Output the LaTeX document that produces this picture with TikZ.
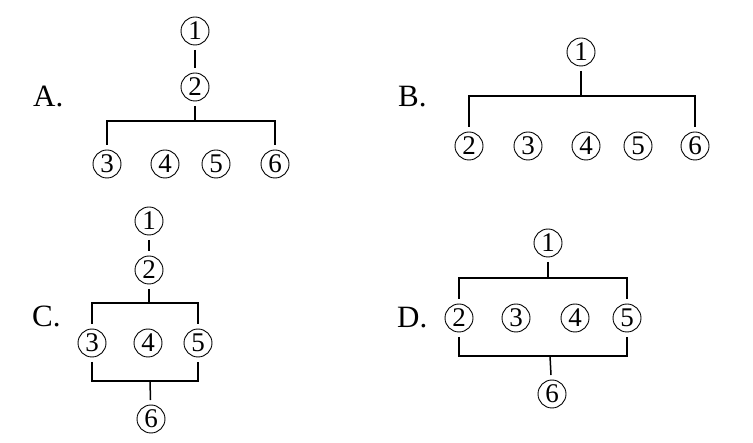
\documentclass[tikz,border=0pt]{standalone}
\usepackage{fontspec}
\setmainfont{Liberation Serif}
\begin{document}
\begin{tikzpicture}[x=1pt, y=-1pt,
    num/.style={circle, draw, line width=0.9pt, minimum size=28pt, inner sep=0pt, outer sep=5pt, font=\fontsize{27}{27}\selectfont},
    lbl/.style={anchor=base west, inner sep=0pt, font=\fontsize{31}{31}\selectfont},
    link/.style={line width=1.5pt}
]
\useasboundingbox (0,0) rectangle (753,443);
\clip (0,0) rectangle (753,443);
% cut-off question line
\node[anchor=base west, inner sep=0pt, font=\fontsize{38}{38}\selectfont] (Q) at (80,-9) {(4) of the passage?};

% option A
\node[lbl] (A) at (33,107) {A.};
\node[num] (A1) at (195,31) {1};
\node[num] (A2) at (195,87) {2};
\node[num] (A3) at (107,164) {3};
\node[num] (A4) at (165,164) {4};
\node[num] (A5) at (216,164) {5};
\node[num] (A6) at (275,164) {6};
\coordinate (Aj) at (195,121);
\draw[link] (A1) -- (A2);
\draw[link] (A2) -- (Aj);
\draw[link] (A3) |- (Aj) -| (A6);

% option B
\node[lbl] (B) at (398,107) {B.};
\node[num] (B1) at (581,52) {1};
\node[num] (B2) at (469,146) {2};
\node[num] (B3) at (528,146) {3};
\node[num] (B4) at (586,146) {4};
\node[num] (B5) at (638,146) {5};
\node[num] (B6) at (695,146) {6};
\coordinate (Bj) at (581,96);
\draw[link] (B1) -- (Bj);
\draw[link] (B2) |- (Bj) -| (B6);

% option C
\node[lbl] (C) at (32,327) {C.};
\node[num] (C1) at (149,221) {1};
\node[num] (C2) at (149,270) {2};
\node[num] (C3) at (92,343) {3};
\node[num] (C4) at (148,343) {4};
\node[num] (C5) at (198,343) {5};
\node[num] (C6) at (151,419) {6};
\coordinate (Cj) at (149,303);
\coordinate (Ck) at (150,381);
\draw[link] (C1) -- (C2);
\draw[link] (C2) -- (Cj);
\draw[link] (C3) |- (Cj) -| (C5);
\draw[link] (C3) |- (Ck) -| (C5);
\draw[link] (Ck) -- (C6);

% option D
\node[lbl] (D) at (397,328) {D.};
\node[num] (D1) at (548,243) {1};
\node[num] (D2) at (459,318) {2};
\node[num] (D3) at (516,318) {3};
\node[num] (D4) at (575,318) {4};
\node[num] (D5) at (627,318) {5};
\node[num] (D6) at (552,394) {6};
\coordinate (Dj) at (548,278);
\coordinate (Dk) at (550,356);
\draw[link] (D1) -- (Dj);
\draw[link] (D2) |- (Dj) -| (D5);
\draw[link] (D2) |- (Dk) -| (D5);
\draw[link] (Dk) -- (D6);
\end{tikzpicture}
\end{document}
